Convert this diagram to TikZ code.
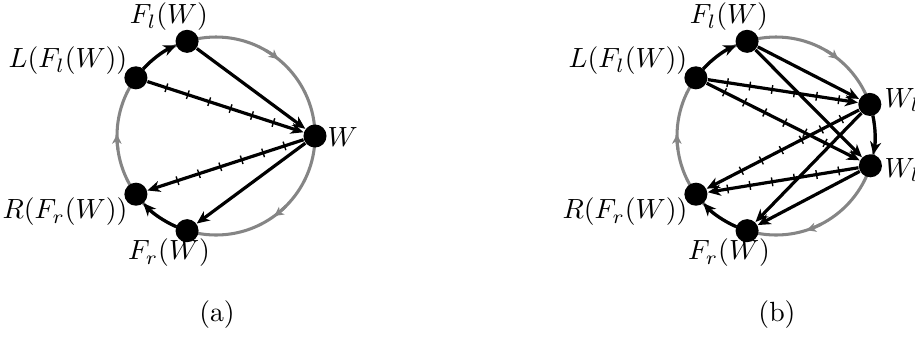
\documentclass[tikz,border=0pt]{standalone}
\usetikzlibrary{arrows.meta,decorations.markings}
\tikzset{
  dot/.style={circle,fill=black,draw=none,inner sep=0pt,minimum size=8.3pt},
  lbl/.style={inner sep=0pt},
  edge/.style={line width=1.15pt,-{Stealth[length=4.6pt,width=4pt,inset=1.4pt]}},
  ring/.style={line width=1.1pt,draw=black!48},
  ringarrow/.style={line width=1.1pt,draw=black!48,-{Stealth[length=3.4pt,width=3.4pt,inset=1pt]},color=black!48},
  hatched/.style={postaction={decorate},decoration={markings,
     mark=between positions 7.2pt and 48pt step 8.1pt with {\draw[line width=0.5pt,-] (0,-1.6pt) -- (0,1.6pt);}}}
}
\begin{document}
\begin{tikzpicture}[x=0.36pt,y=0.36pt]
\useasboundingbox (0,0) rectangle (915,338);
% ---------------- (a) ----------------
\begin{scope}[shift={(216,202)}]
  \draw[ring] (0,0) circle[radius=35.64pt];
  \draw[ringarrow] (60:99) arc[start angle=60,end angle=51,radius=35.64pt];
  \draw[ringarrow] (-45:99) arc[start angle=-45,end angle=-54,radius=35.64pt];
  \draw[ringarrow] (188:99) arc[start angle=188,end angle=179,radius=35.64pt];
  \node[dot] (aFl) at (107:99) {};
  \node[dot] (aL) at (144:99) {};
  \node[dot] (aW) at (0:99) {};
  \node[dot] (aR) at (216:99) {};
  \node[dot] (aFr) at (253:99) {};
  \draw[edge] (137.3:99) arc[start angle=137.3,end angle=113.7,radius=35.64pt];
  \draw[edge] (246.3:99) arc[start angle=246.3,end angle=222.7,radius=35.64pt];
\end{scope}
\draw[edge] (aFl) -- (aW);
\draw[edge,hatched] (aL) -- (aW);
\draw[edge,hatched] (aW) -- (aR);
\draw[edge] (aW) -- (aFr);
\node[lbl] (laFl) at (169,321) {$F_l(W)$};
\node[lbl] (laL) at (68,277) {$L(F_l(W))$};
\node[lbl,anchor=west] (laW) at (327,201) {$W$};
\node[lbl] (laR) at (65,126) {$R(F_r(W))$};
\node[lbl] (laFr) at (169,85) {$F_r(W)$};
\node[lbl] (capa) at (217,23) {(a)};
% ---------------- (b) ----------------
\begin{scope}[shift={(776,202)}]
  \draw[ring] (0,0) circle[radius=35.64pt];
  \draw[ringarrow] (60:99) arc[start angle=60,end angle=51,radius=35.64pt];
  \draw[ringarrow] (-63:99) arc[start angle=-63,end angle=-72,radius=35.64pt];
  \draw[ringarrow] (188:99) arc[start angle=188,end angle=179,radius=35.64pt];
  \node[dot] (bFl) at (107:99) {};
  \node[dot] (bL) at (144:99) {};
  \node[dot] (bWa) at (18.6:99) {};
  \node[dot] (bWb) at (-17.5:99) {};
  \node[dot] (bR) at (216:99) {};
  \node[dot] (bFr) at (253:99) {};
  \draw[edge] (137.3:99) arc[start angle=137.3,end angle=113.7,radius=35.64pt];
  \draw[edge] (246.3:99) arc[start angle=246.3,end angle=222.7,radius=35.64pt];
  \draw[edge] (11.9:99) arc[start angle=11.9,end angle=-10.8,radius=35.64pt];
\end{scope}
\draw[edge] (bFl) -- (bWa);
\draw[edge] (bFl) -- (bWb);
\draw[edge,hatched] (bL) -- (bWa);
\draw[edge,hatched] (bL) -- (bWb);
\draw[edge,hatched] (bWa) -- (bR);
\draw[edge,hatched] (bWb) -- (bR);
\draw[edge] (bWa) -- (bFr);
\draw[edge] (bWb) -- (bFr);
\node[lbl] (lbFl) at (729,321) {$F_l(W)$};
\node[lbl] (lbL) at (628,277) {$L(F_l(W))$};
\node[lbl,anchor=west] (lbWa) at (884,238) {$W_l$};
\node[lbl,anchor=west] (lbWb) at (884,168) {$W_l$};
\node[lbl] (lbR) at (625,126) {$R(F_r(W))$};
\node[lbl] (lbFr) at (729,85) {$F_r(W)$};
\node[lbl] (capb) at (777,23) {(b)};
\end{tikzpicture}
\end{document}
